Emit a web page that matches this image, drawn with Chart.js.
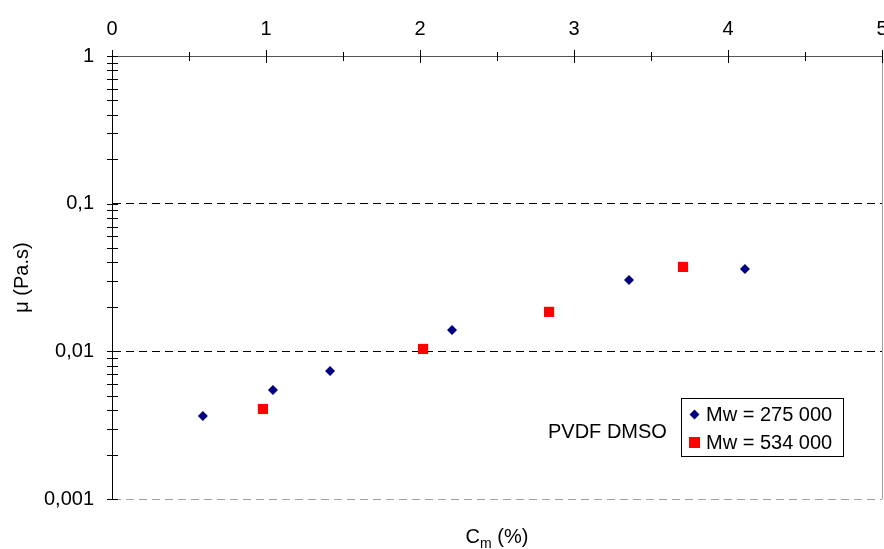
<!DOCTYPE html>
<html>
<head>
<meta charset="utf-8">
<script src="https://cdn.jsdelivr.net/npm/chart.js@4/dist/chart.umd.min.js"></script>
<style>
  html, body { margin: 0; padding: 0; background: #fff; }
  #wrap { position: relative; width: 884px; height: 549px; font-family: "Liberation Sans", Arial, sans-serif; color: #000; }
  #c { position: absolute; left: 0; top: 0; }
  .txt { position: absolute; font-size: 20px; line-height: 20px; white-space: nowrap; }
  #xtitle { left: 112px; width: 770px; top: 526px; text-align: center; }
  #xtitle sub { font-size: 14px; line-height: 0; vertical-align: -5px; }
  #note { left: 548px; top: 421px; }
  #legend { position: absolute; left: 681px; top: 398px; width: 161px; border: 1px solid #000; background: #fff; padding: 1px 0 0 0; font-size: 20px; line-height: 28px; }
  #legend .row { position: relative; padding-left: 24px; white-space: nowrap; }
  #legend .mk { position: absolute; }
</style>
</head>
<body>
<div id="wrap">
  <canvas id="c" width="884" height="549"></canvas>
  <div id="xtitle" class="txt">C<sub>m</sub> (%)</div>
  <div id="note" class="txt">PVDF DMSO</div>
  <div id="legend"></div>
</div>
<script>
// ---- data ----
const seriesLabels = ['Mw = 275 000', 'Mw = 534 000'];
const series1X = [0.59, 1.045, 1.416, 2.208, 3.357, 4.11];
const series1Y = [0.00365, 0.00548, 0.00737, 0.01396, 0.0304, 0.0361];
const series2X = [0.98, 2.02, 2.838, 3.708];
const series2Y = [0.00407, 0.01038, 0.0185, 0.0373];
const xTickValues = [0, 0.5, 1, 1.5, 2, 2.5, 3, 3.5, 4, 4.5, 5];
const xTickLabels = ['0', '', '1', '', '2', '', '3', '', '4', '', '5'];
const yDecades = [0.001, 0.01, 0.1, 1];
const yDecadeLabels = ['0,001', '0,01', '0,1', '1'];
const yMinorMultipliers = [2, 3, 4, 5, 6, 7, 8, 9];
const noteText = 'PVDF DMSO';
const xTitle = 'C<sub>m</sub> (%)';
const yTitle = 'μ (Pa.s)';

const seriesColors = ['#000080', '#FF0000'];

// build y tick list from decades and minor multipliers
const yTickValues = [];
yDecades.forEach((d, i) => {
  yTickValues.push(d);
  if (i < yDecades.length - 1) {
    yMinorMultipliers.forEach(m => yTickValues.push(parseFloat((d * m).toPrecision(6))));
  }
});

const FONT = { family: '"Liberation Sans", Arial, sans-serif', size: 20 };

const crossTicks = {
  id: 'crossTicks',
  afterDraw(chart) {
    const { ctx, chartArea } = chart;
    const ys = chart.scales.y, xs = chart.scales.x;
    ctx.save();
    ctx.lineWidth = 1;
    ctx.strokeStyle = '#000';
    ys.ticks.forEach(t => {
      const py = Math.round(ys.getPixelForValue(t.value)) + 0.5;
      ctx.beginPath();
      ctx.moveTo(chartArea.left - 5, py);
      ctx.lineTo(chartArea.left + 6, py);
      ctx.stroke();
    });
    xs.ticks.forEach(t => {
      const px = Math.min(Math.round(xs.getPixelForValue(t.value)) + 0.5, chart.width - 1.5);
      const major = Number.isInteger(t.value);
      ctx.beginPath();
      ctx.moveTo(px, chartArea.top - (major ? 6 : 4));
      ctx.lineTo(px, chartArea.top + (major ? 7 : 5));
      ctx.stroke();
    });
    ctx.restore();
  }
};

const chart = new Chart(document.getElementById('c'), {
  type: 'scatter',
  data: {
    datasets: [
      {
        label: seriesLabels[0],
        data: series1X.map((x, i) => ({ x, y: series1Y[i] })),
        pointStyle: 'rectRot',
        radius: 5,
        hoverRadius: 5,
        borderWidth: 0,
        backgroundColor: seriesColors[0],
        borderColor: seriesColors[0]
      },
      {
        label: seriesLabels[1],
        data: series2X.map((x, i) => ({ x, y: series2Y[i] })),
        pointStyle: 'rect',
        radius: 7.2,
        hoverRadius: 7.2,
        borderWidth: 0,
        backgroundColor: seriesColors[1],
        borderColor: seriesColors[1]
      }
    ]
  },
  options: {
    responsive: false,
    animation: false,
    devicePixelRatio: 1,
    layout: { autoPadding: false, padding: { left: 0, right: 2, top: 0, bottom: 50 } },
    plugins: { legend: { display: false }, tooltip: { enabled: false } },
    scales: {
      x: {
        type: 'linear',
        position: 'top',
        min: 0,
        max: 5,
        afterBuildTicks: s => { s.ticks = xTickValues.map(v => ({ value: v })); },
        afterFit: s => { s.height = 56; s.paddingLeft = 0; s.paddingRight = 0; },
        ticks: {
          autoSkip: false,
          maxRotation: 0,
          padding: 15,
          color: '#000',
          font: FONT,
          callback: (v) => { const i = xTickValues.indexOf(v); return i >= 0 ? xTickLabels[i] : ''; }
        },
        grid: {
          drawTicks: false,
          lineWidth: 1,
          color: ctx => (ctx.tick && ctx.tick.value === 5) ? '#a0a0a0' : 'rgba(0,0,0,0)'
        },
        border: { display: true, color: '#555', width: 1 }
      },
      y: {
        type: 'logarithmic',
        position: 'left',
        min: 0.001,
        max: 1,
        afterBuildTicks: s => { s.ticks = yTickValues.map(v => ({ value: v })); },
        afterFit: s => { s.width = 112; s.paddingTop = 0; s.paddingBottom = 0; },
        ticks: {
          autoSkip: false,
          padding: 18,
          color: '#000',
          font: FONT,
          callback: (v) => { const i = yDecades.indexOf(v); return i >= 0 ? yDecadeLabels[i] : ''; }
        },
        grid: {
          drawTicks: false,
          lineWidth: 1,
          color: ctx => {
            const v = ctx.tick ? ctx.tick.value : null;
            if (v === 0.1 || v === 0.01) return '#000';
            if (v === 0.001) return '#a0a0a0';
            return 'rgba(0,0,0,0)';
          }
        },
        border: {
          display: true,
          color: '#000',
          width: 1,
          dash: ctx => ctx.type === 'tick' ? [8, 5] : []
        },
        title: {
          display: true,
          text: yTitle,
          color: '#000',
          font: FONT,
          padding: { top: 10, bottom: 0 }
        }
      }
    }
  },
  plugins: [crossTicks]
});

// HTML legend built from the chart's datasets
const legend = document.getElementById('legend');
chart.data.datasets.forEach((ds, i) => {
  const row = document.createElement('div');
  row.className = 'row';
  const mk = document.createElement('span');
  mk.className = 'mk';
  if (ds.pointStyle === 'rectRot') {
    mk.style.cssText = 'left:9px;top:11px;width:7px;height:7px;transform:rotate(45deg);background:' + ds.backgroundColor;
  } else {
    mk.style.cssText = 'left:7px;top:9px;width:11px;height:11px;background:' + ds.backgroundColor;
  }
  row.appendChild(mk);
  row.appendChild(document.createTextNode(ds.label));
  legend.appendChild(row);
});
document.getElementById('note').textContent = noteText;
document.getElementById('xtitle').innerHTML = xTitle;
</script>
</body>
</html>
